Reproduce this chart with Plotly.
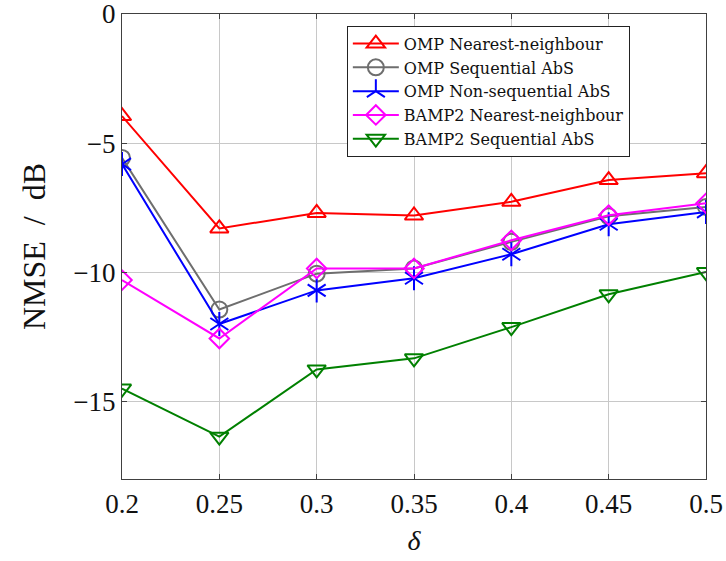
import plotly.graph_objects as go

# Sparsity ratio delta and NMSE results (dB)
delta = [0.2, 0.25, 0.3, 0.35, 0.4, 0.45, 0.5]

omp_nn = [-3.95, -8.3, -7.7, -7.8, -7.27, -6.43, -6.16]
omp_seq = [-5.57, -11.44, -10.05, -9.85, -8.82, -7.83, -7.47]
omp_nonseq = [-5.81, -12.0, -10.7, -10.23, -9.3, -8.14, -7.66]
bamp2_nn = [-10.3, -12.56, -9.85, -9.85, -8.76, -7.79, -7.33]
bamp2_seq = [-14.5, -16.36, -13.76, -13.33, -12.12, -10.85, -9.99]

x_ticks = [0.2, 0.25, 0.3, 0.35, 0.4, 0.45, 0.5]
x_ticktext = ["0.2", "0.25", "0.3", "0.35", "0.4", "0.45", "0.5"]
y_ticks = [0, -5, -10, -15]
y_ticktext = ["0", "\u22125", "\u221210", "\u221215"]

FONT = "Liberation Serif"
LEGEND_FONT = "DejaVu Serif"

series = [
    ("OMP Nearest-neighbour", omp_nn, "#ff0000", "triangle-up-open", 16),
    ("OMP Sequential AbS", omp_seq, "#6e6e6e", "circle-open", 16),
    ("OMP Non-sequential AbS", omp_nonseq, "#0000ff", "y-up-open", 15),
    ("BAMP2 Nearest-neighbour", bamp2_nn, "#ff00ff", "diamond-open", 15),
    ("BAMP2 Sequential AbS", bamp2_seq, "#008000", "triangle-down-open", 16),
]

fig = go.Figure()
for name, vals, color, sym, size in series:
    fig.add_trace(go.Scatter(
        x=delta, y=vals, name=name, mode="lines+markers",
        line=dict(color=color, width=2),
        marker=dict(symbol=sym, size=size, color=color,
                    line=dict(color=color, width=2)),
    ))
    if sym == "y-up-open":
        # complete the six-armed asterisk
        fig.add_trace(go.Scatter(
            x=delta, y=vals, mode="markers", showlegend=False,
            hoverinfo="skip",
            marker=dict(symbol="y-down-open", size=size, color=color,
                        line=dict(color=color, width=2)),
        ))

axis_common = dict(
    showgrid=True, gridcolor="#c8c8c8", gridwidth=1,
    showline=True, linecolor="#404040", linewidth=1.3, mirror="ticks",
    ticks="inside", ticklen=5, tickcolor="#404040",
    zeroline=False, automargin=False, ticklabeloverflow="allow",
    tickfont=dict(family=FONT, size=27, color="#111111"),
)

fig.update_xaxes(
    range=[0.2, 0.5], tickvals=x_ticks, ticktext=x_ticktext,
    title=dict(text="<i>\u03b4</i>", font=dict(family=FONT, size=28, color="#111111"), standoff=12),
    **axis_common,
)
fig.update_yaxes(
    range=[-18, 0], tickvals=y_ticks, ticktext=y_ticktext,
    title=dict(text="NMSE\u00a0\u00a0/\u00a0\u00a0dB",
               font=dict(family=FONT, size=32, color="#111111"), standoff=18),
    **axis_common,
)

fig.update_layout(
    width=726, height=561,
    margin=dict(l=122, r=20, t=14, b=82),
    paper_bgcolor="white", plot_bgcolor="white",
    font=dict(family=FONT),
    showlegend=True,
    legend=dict(
        x=0.385, y=0.975, xanchor="left", yanchor="top",
        bgcolor="white", bordercolor="#222222", borderwidth=1,
        font=dict(family=LEGEND_FONT, size=16, color="#111111"),
        tracegroupgap=0, itemwidth=46,
    ),
)

fig.write_html("out.html")
